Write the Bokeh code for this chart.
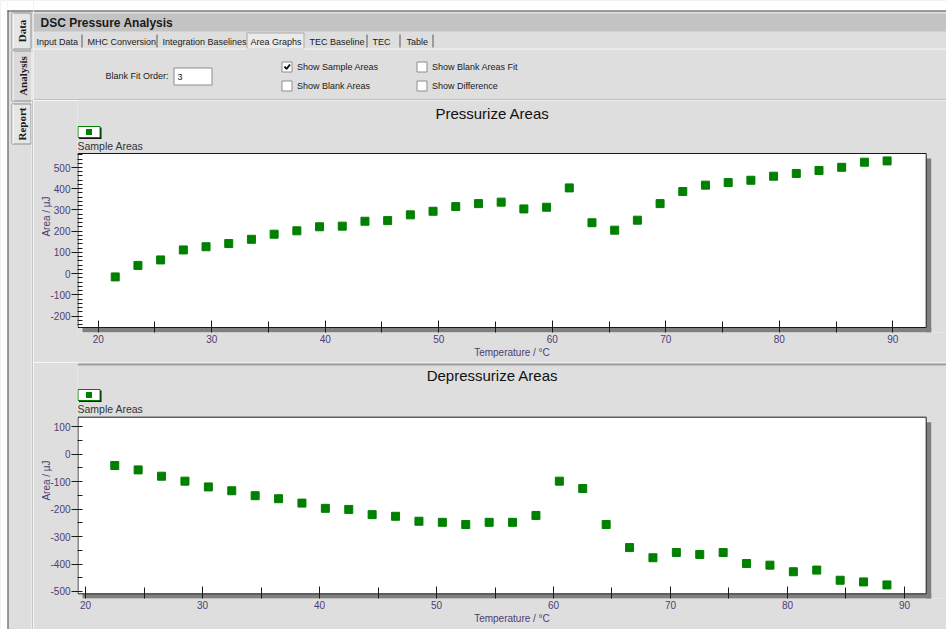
import math
from bokeh.plotting import figure
from bokeh.layouts import row, column
from bokeh.models import Range1d, FixedTicker, PrintfTickFormatter
from bokeh.core.properties import value
from bokeh.embed import file_html
from bokeh.resources import INLINE

# ---------------- data ----------------
pressurize_temp = [21.5, 23.5, 25.5, 27.5, 29.5, 31.5, 33.5, 35.5, 37.5, 39.5, 41.5, 43.5,
                   45.5, 47.5, 49.5, 51.5, 53.5, 55.5, 57.5, 59.5, 61.5, 63.5, 65.5, 67.5,
                   69.5, 71.5, 73.5, 75.5, 77.5, 79.5, 81.5, 83.5, 85.5, 87.5, 89.5]
pressurize_area = [-15, 39, 65, 112, 127, 142, 162, 186, 202, 221, 224, 247,
                   250, 277, 294, 316, 330, 337, 305, 313, 404, 240, 205, 252,
                   330, 387, 417, 429, 440, 459, 472, 486, 501, 525, 531]

depressurize_temp = [22.5, 24.5, 26.5, 28.5, 30.5, 32.5, 34.5, 36.5, 38.5, 40.5, 42.5, 44.5,
                     46.5, 48.5, 50.5, 52.5, 54.5, 56.5, 58.5, 60.5, 62.5, 64.5, 66.5, 68.5,
                     70.5, 72.5, 74.5, 76.5, 78.5, 80.5, 82.5, 84.5, 86.5, 88.5]
depressurize_area = [-41, -57, -80, -98, -119, -133, -151, -162, -178, -197, -201, -220,
                     -226, -244, -248, -256, -248, -248, -223, -98, -125, -256, -340, -377,
                     -358, -365, -358, -398, -404, -428, -422, -459, -465, -476]

chart_titles = ["Pressurize Areas", "Depressurize Areas"]
series_name = "Sample Areas"
x_label = "Temperature / °C"
y_label = "Area / µJ"
x_major = [20, 30, 40, 50, 60, 70, 80, 90]
x_minor = [25, 35, 45, 55, 65, 75, 85]
top_y_major = [-200, -100, 0, 100, 200, 300, 400, 500]
top_y_minor = [v for v in range(-240, 561, 20) if v % 100 != 0]
bot_y_major = [-500, -400, -300, -200, -100, 0, 100]
bot_y_minor = [-450, -350, -250, -150, -50, 50]

app_title = "DSC Pressure Analysis"
tab_names = ["Input Data", "MHC Conversion", "Integration Baselines", "Area Graphs",
             "TEC Baseline", "TEC", "Table"]
side_tabs = ["Data", "Analysis", "Report"]
check_labels = ["Show Sample Areas", "Show Blank Areas", "Show Blank Areas Fit", "Show Difference"]
check_states = [True, False, False, False]
fit_order_label = "Blank Fit Order:"
fit_order_value = "3"

# ---------------- style ----------------
PANEL = "#dedede"
TITLEBAR = "#c3c3c3"
GREEN = "#008000"
AXIS_TXT = "#4d3d73"
UI_FONT = "Liberation Sans"
UI_SIZE = "9px"

W_SIDE = 33
W_MAIN = 913
H_HEAD = 100
H_TOP = 262
H_BOT = 267
LEFT_BORDER = 44


def pixel_fig(w, h):
    p = figure(width=w, height=h, x_range=Range1d(0, w), y_range=Range1d(h, 0),
               x_axis_location=None, y_axis_location=None, output_backend="svg",
               toolbar_location=None, min_border=0, title=None)
    p.grid.visible = False
    p.outline_line_color = None
    p.background_fill_color = PANEL
    p.border_fill_color = PANEL
    return p


# ---------------- sidebar (page x 0..33) ----------------
side = pixel_fig(W_SIDE, H_HEAD + H_TOP + H_BOT)
side.quad(left=[0, 7], right=[7, W_SIDE], top=[0, 0], bottom=[629, 10],
          fill_color="white", line_color=None)
side.segment(x0=[7.5, 7], y0=[10, 10.5], x1=[7.5, W_SIDE], y1=[629, 10.5],
             line_color="#4a4a4a", line_width=1)
tab_tops = [12.5, 50.5, 103.5]
tab_bots = [48.5, 100.5, 143.5]
tab_rights = [30.5, 33, 30.5]
side.quad(left=[11.5] * 3, right=tab_rights, top=tab_tops, bottom=tab_bots,
          fill_color=["#e6e6e6", "#dadada", "#e6e6e6"], line_color="#8f8f8f", line_width=1)
side.segment(x0=[12.5] * 3, y0=tab_tops, x1=[12.5] * 3, y1=tab_bots,
             line_color="white", line_width=1)
side.text(x=[21.5, 22, 21.5], y=[(t + b) / 2 for t, b in zip(tab_tops, tab_bots)],
          text=side_tabs, angle=math.pi / 2, text_align="center", text_baseline="middle",
          text_font=value("Liberation Serif"), text_font_style="bold",
          text_font_size="11px", text_color="#1a1a1a")
side.segment(x0=[31.5, 32.5], y0=[48, 100], x1=[31.5, 32.5], y1=[629, 629],
             line_color=["#f8f8f8", "#a0a0a0"], line_width=1)

# ---------------- header (page x 33..946, y 0..100) ----------------
head = pixel_fig(W_MAIN, H_HEAD)
head.quad(left=[0], right=[W_MAIN], top=[0], bottom=[10], fill_color="white", line_color=None)
head.segment(x0=[0], y0=[10.5], x1=[W_MAIN], y1=[10.5], line_color="#4a4a4a", line_width=1)
head.quad(left=[0], right=[W_MAIN], top=[13], bottom=[31], fill_color=TITLEBAR, line_color=None)
head.text(x=[7], y=[22], text=[app_title], text_baseline="middle",
          text_font=value(UI_FONT), text_font_style="bold", text_font_size="12px",
          text_color="#1a1a1a")
head.quad(left=[213.5], right=[270.5], top=[32.5], bottom=[48.5], fill_color="#ebebeb",
          line_color="#a8a8a8", line_width=1)
tab_x = [3, 54, 129, 217, 276, 339, 373]
head.text(x=tab_x, y=[41] * len(tab_x), text=tab_names, text_baseline="middle",
          text_font=value(UI_FONT), text_font_size=UI_SIZE, text_color="#202020")
sep_x = [48.5, 123.5, 333.5, 366.5, 399.5]
head.segment(x0=sep_x, y0=[34] * 5, x1=sep_x, y1=[47] * 5, line_color="#5a5a5a", line_width=1)
head.segment(x0=[0], y0=[48.5], x1=[W_MAIN], y1=[48.5], line_color="#f7f7f7", line_width=1)
head.text(x=[135], y=[75.5], text=[fit_order_label], text_align="right", text_baseline="middle",
          text_font=value(UI_FONT), text_font_size=UI_SIZE, text_color="#202020")
head.quad(left=[140.5], right=[178.5], top=[67.5], bottom=[84.5], fill_color="white",
          line_color="#8c8c8c", line_width=1)
head.text(x=[144], y=[76], text=[fit_order_value], text_baseline="middle",
          text_font=value(UI_FONT), text_font_size=UI_SIZE, text_color="#202020")
cb_x = [248.5, 248.5, 383.5, 383.5]
cb_y = [61.5, 80.5, 61.5, 80.5]
head.quad(left=cb_x, right=[x + 10 for x in cb_x], top=cb_y, bottom=[y + 10 for y in cb_y],
          fill_color="white", line_color="#8c8c8c", line_width=1)
for x, y, on in zip(cb_x, cb_y, check_states):
    if on:
        head.line(x=[x + 2.5, x + 4.5, x + 8], y=[y + 4.5, y + 7, y + 2.5],
                  line_color="#111111", line_width=2)
head.text(x=[x + 15 for x in cb_x], y=[y + 5 for y in cb_y], text=check_labels,
          text_baseline="middle", text_font=value(UI_FONT), text_font_size=UI_SIZE,
          text_color="#202020")
head.segment(x0=[0], y0=[99.5], x1=[W_MAIN], y1=[99.5], line_color="#a0a0a0", line_width=1)


# ---------------- charts ----------------
def chart(title, temps, areas, xr, yr, fig_h, frame_h, page_top, white_top, white_bot,
          y_major, y_minor, legend_y):
    p = figure(width=W_MAIN, height=fig_h, x_range=Range1d(*xr), y_range=Range1d(*yr),
               output_backend="svg", toolbar_location=None, title=None,
               min_border_left=LEFT_BORDER, min_border_right=0,
               min_border_top=0, min_border_bottom=fig_h - frame_h)
    p.background_fill_color = PANEL
    p.border_fill_color = PANEL
    p.outline_line_color = None
    p.grid.visible = False

    fw = W_MAIN - LEFT_BORDER
    frame_left = W_SIDE + LEFT_BORDER
    sx = (xr[1] - xr[0]) / fw
    sy = (yr[1] - yr[0]) / frame_h

    def X(px):
        return xr[0] + (px - frame_left) * sx

    def Y(py):
        return yr[1] - (py - page_top) * sy

    white_right = 925.7
    # drop shadow
    p.quad(left=[X(white_right), X(82)], right=[X(white_right + 5), X(white_right + 5)],
           top=[Y(white_top + 5), Y(white_bot)], bottom=[Y(white_bot + 5), Y(white_bot + 5)],
           fill_color="#7f7f7f", line_color=None)
    # plot area
    p.quad(left=[X(frame_left + 0.5)], right=[X(white_right)], top=[Y(white_top)],
           bottom=[Y(white_bot)], fill_color="white", line_color="#1a1a1a", line_width=1)
    # panel top border (bottom chart)
    if page_top > 200:
        p.quad(left=[xr[0]], right=[xr[1]], top=[Y(page_top + 1)], bottom=[Y(page_top + 3)],
               fill_color="#a0a0a0", line_color=None)
    # title
    p.text(x=[X(492)], y=[Y(page_top + 12.5)], text=[title], text_align="center",
           text_baseline="middle", text_font=value(UI_FONT), text_font_size="15px",
           text_color="#111111")
    # legend
    p.quad(left=[X(78.5)], right=[X(101)], top=[Y(legend_y + 1)], bottom=[Y(legend_y + 12.5)],
           fill_color="#111111", line_color=None)
    p.quad(left=[X(77.5)], right=[X(99.5)], top=[Y(legend_y)], bottom=[Y(legend_y + 11)],
           fill_color="white", line_color=GREEN, line_width=1)
    p.quad(left=[X(85.5)], right=[X(91.5)], top=[Y(legend_y + 2.5)], bottom=[Y(legend_y + 8.5)],
           fill_color=GREEN, line_color=None)
    p.text(x=[X(77)], y=[Y(legend_y + 19)], text=[series_name], text_baseline="middle",
           text_font=value(UI_FONT), text_font_size="10.5px", text_color="#333333")

    p.scatter(x=temps, y=areas, marker="square", size=8, fill_color=GREEN, line_color=GREEN)

    p.xaxis.ticker = FixedTicker(ticks=x_major, minor_ticks=x_minor)
    p.yaxis.ticker = FixedTicker(ticks=y_major, minor_ticks=y_minor)
    p.yaxis.formatter = PrintfTickFormatter(format="%d")
    for ax in (p.xaxis, p.yaxis):
        ax.axis_line_color = None
        ax.major_tick_line_color = "#1a1a1a"
        ax.minor_tick_line_color = "#1a1a1a"
        ax.major_label_text_font = UI_FONT
        ax.major_label_text_font_size = "10px"
        ax.major_label_text_color = AXIS_TXT
        ax.axis_label_text_font = UI_FONT
        ax.axis_label_text_font_size = "10px"
        ax.axis_label_text_font_style = "normal"
        ax.axis_label_text_color = AXIS_TXT
    p.xaxis.axis_label = x_label
    p.yaxis.axis_label = y_label
    p.xaxis.major_tick_in = 12
    p.xaxis.major_tick_out = 0
    p.xaxis.minor_tick_in = 11
    p.xaxis.minor_tick_out = 0
    p.xaxis.major_label_standoff = 2
    p.xaxis.axis_label_standoff = 1
    p.yaxis.major_tick_in = 5
    p.yaxis.major_tick_out = 6
    p.yaxis.minor_tick_in = 5
    p.yaxis.minor_tick_out = 0
    p.yaxis.major_label_standoff = 1
    p.yaxis.axis_label_standoff = -5
    return p


top = chart(chart_titles[0], pressurize_temp, pressurize_area,
            (18.176, 94.733), (-276.7, 815.4), H_TOP, 232, 100, 153, 327,
            top_y_major, top_y_minor, 126)
bottom = chart(chart_titles[1], depressurize_temp, depressurize_area,
               (19.316, 93.59), (-525.5, 334.2), H_BOT, 236, 362, 416.7, 593.3,
               bot_y_major, bot_y_minor, 389)

layout = row(side, column(head, column(top, bottom)))
open("out.html", "w").write(file_html(layout, INLINE))
